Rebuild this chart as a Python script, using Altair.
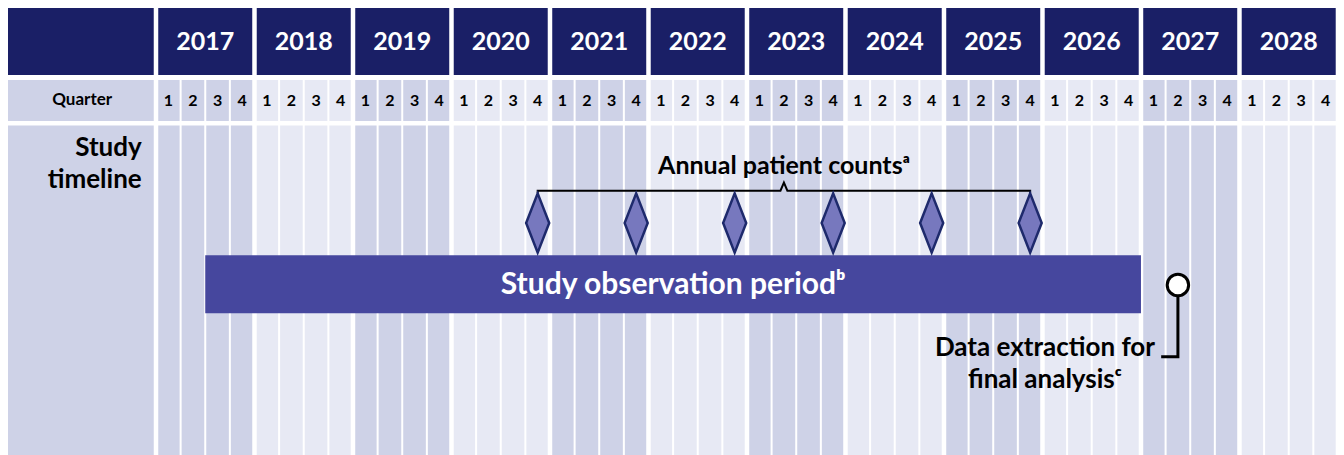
import altair as alt
import pandas as pd

# ---------------- data ----------------
YEARS = list(range(2017, 2029))
QUARTERS = [1, 2, 3, 4]
OBS_START = (2017, 3)          # study observation period start (year, quarter)
OBS_END = (2026, 4)            # study observation period end (year, quarter)
COUNT_YEARS = [2020, 2021, 2022, 2023, 2024, 2025]   # annual patient counts
COUNT_QUARTER = 4
EXTRACTION = (2027, 2)         # data extraction for final analysis

LBL_TIMELINE = "Study\ntimeline"
LBL_QUARTER = "Quarter"
LBL_COUNTS = "Annual patient counts\u1d43"
LBL_OBS = "Study observation period\u1d47"
LBL_EXTRACT = "Data extraction for\nfinal analysis\u1d9c"

# ---------------- layout / style ----------------
FONT = "Lato"
NAVY = "#1a1f66"
DARK = "#ced2e7"
LIGHT = "#e7e9f4"
BAR = "#46479e"
DIAM_FILL = "#7778be"
DIAM_STROKE = "#1e2a6c"

X_MIN, X_MAX = -6.01, 47.92
LEFT_COL = (-6.01, 0)
HEADER = (0, 67)
QROW = (72, 113)
BODY = (117.5, 447)

W, H = 1328, 447


def qidx(year, q):
    return (year - 2017) * 4 + (q - 1)


xs = alt.Scale(domain=[X_MIN, X_MAX], nice=False, zero=False)
ys = alt.Scale(domain=[0, H], reverse=True, nice=False, zero=False)
X = lambda: alt.X("x:Q", scale=xs, axis=None)
Y = lambda: alt.Y("y:Q", scale=ys, axis=None)

# ---------------- background cells ----------------
cells = []
cells.append(dict(x=LEFT_COL[0], x2=LEFT_COL[1], y=HEADER[0], y2=HEADER[1], fill=NAVY))
cells.append(dict(x=LEFT_COL[0], x2=LEFT_COL[1], y=QROW[0], y2=QROW[1], fill=DARK))
cells.append(dict(x=LEFT_COL[0], x2=LEFT_COL[1], y=BODY[0], y2=BODY[1], fill=DARK))
for yr in YEARS:
    shade = DARK if (yr - 2017) % 2 == 0 else LIGHT
    cells.append(dict(x=qidx(yr, 1), x2=qidx(yr, 4) + 1, y=HEADER[0], y2=HEADER[1], fill=NAVY))
    for q in QUARTERS:
        for row in (QROW, BODY):
            cells.append(dict(x=qidx(yr, q), x2=qidx(yr, q) + 1, y=row[0], y2=row[1], fill=shade))
cells_df = pd.DataFrame(cells)

cell_layer = alt.Chart(cells_df).mark_rect().encode(
    x=X(), x2="x2:Q", y=Y(), y2="y2:Q", fill=alt.Fill("fill:N", scale=None),
)

# white separators
qsep = pd.DataFrame([dict(x=qidx(yr, q), y=QROW[0], y2=BODY[1]) for yr in YEARS for q in (2, 3, 4)])
ysep = pd.DataFrame([dict(x=qidx(yr, 1), y=0, y2=H) for yr in YEARS] + [dict(x=48, y=0, y2=H)])

qsep_layer = alt.Chart(qsep).mark_rule(color="white", strokeWidth=2).encode(x=X(), y=Y(), y2="y2:Q")
ysep_layer = alt.Chart(ysep).mark_rule(color="white", strokeWidth=4.5).encode(x=X(), y=Y(), y2="y2:Q")

# ---------------- header texts ----------------
year_df = pd.DataFrame([dict(x=qidx(yr, 1) + 2, y=33.5, t=str(yr)) for yr in YEARS])
year_text = alt.Chart(year_df).mark_text(
    font=FONT, fontWeight="bold", fontSize=25, color="white", align="center", baseline="middle"
).encode(x=X(), y=Y(), text="t:N")

q_df = pd.DataFrame([dict(x=qidx(yr, q) + 0.5, y=93, t=str(q)) for yr in YEARS for q in QUARTERS])
q_text = alt.Chart(q_df).mark_text(
    font=FONT, fontWeight="bold", fontSize=16, color="black", align="center", baseline="middle"
).encode(x=X(), y=Y(), text="t:N")

quarter_lbl = alt.Chart(pd.DataFrame([dict(x=-3.0, y=92, t=LBL_QUARTER)])).mark_text(
    font=FONT, fontWeight="bold", fontSize=17, color="black", align="center", baseline="middle"
).encode(x=X(), y=Y(), text="t:N")

timeline_lbl = alt.Chart(pd.DataFrame([dict(x=-0.58, y=148, t=LBL_TIMELINE)])).mark_text(
    font=FONT, fontWeight="bold", fontSize=26, color="black", align="right", baseline="alphabetic",
    lineBreak="\n", lineHeight=31.5,
).encode(x=X(), y=Y(), text="t:N")

# ---------------- observation bar ----------------
obs_df = pd.DataFrame([dict(x=qidx(*OBS_START), x2=qidx(*OBS_END) + 1, y=247.3, y2=305.3)])
obs_bar = alt.Chart(obs_df).mark_rect(color=BAR).encode(x=X(), x2="x2:Q", y=Y(), y2="y2:Q")
obs_mid = (qidx(*OBS_START) + qidx(*OBS_END) + 1) / 2
obs_text = alt.Chart(pd.DataFrame([dict(x=obs_mid, y=276.5, t=LBL_OBS)])).mark_text(
    font=FONT, fontWeight="bold", fontSize=30, color="white", align="center", baseline="middle"
).encode(x=X(), y=Y(), text="t:N")

# ---------------- annual counts ----------------
cx = [qidx(yr, COUNT_QUARTER) + 0.5 for yr in COUNT_YEARS]
mid = (cx[0] + cx[-1]) / 2
bracket_df = pd.DataFrame([
    dict(o=0, x=cx[0], y=185), dict(o=1, x=cx[0], y=182.7),
    dict(o=2, x=mid - 0.14, y=182.7), dict(o=3, x=mid, y=174.5), dict(o=4, x=mid + 0.14, y=182.7),
    dict(o=5, x=cx[-1], y=182.7), dict(o=6, x=cx[-1], y=185),
])
bracket = alt.Chart(bracket_df).mark_line(color="black", strokeWidth=2, strokeJoin="miter").encode(
    x=X(), y=Y(), order="o:Q"
)
diam_df = pd.DataFrame([dict(x=v, y=215) for v in cx])
diamonds = alt.Chart(diam_df).mark_point(
    shape="M0,-1L0.39,0L0,1L-0.39,0Z", size=3500, filled=True, fill=DIAM_FILL,
    stroke=DIAM_STROKE, strokeWidth=2.5, opacity=1, fillOpacity=1,
).encode(x=X(), y=Y())
counts_text = alt.Chart(pd.DataFrame([dict(x=mid, y=158, t=LBL_COUNTS)])).mark_text(
    font=FONT, fontWeight="bold", fontSize=25, color="black", align="center", baseline="middle"
).encode(x=X(), y=Y(), text="t:N")

# ---------------- data extraction ----------------
ex = qidx(*EXTRACTION) + 0.5
conn_df = pd.DataFrame([
    dict(o=0, x=ex, y=277), dict(o=1, x=ex, y=348.7), dict(o=2, x=ex - 0.68, y=348.7),
])
connector = alt.Chart(conn_df).mark_line(color="black", strokeWidth=3, strokeJoin="miter").encode(
    x=X(), y=Y(), order="o:Q"
)
circle = alt.Chart(pd.DataFrame([dict(x=ex, y=277)])).mark_point(
    shape="circle", size=460, filled=True, fill="white", stroke="black", strokeWidth=3, opacity=1
).encode(x=X(), y=Y())
ext_text = alt.Chart(pd.DataFrame([dict(x=36.1, y=340, t=LBL_EXTRACT)])).mark_text(
    font=FONT, fontWeight="bold", fontSize=26, color="black", align="center", baseline="middle",
    lineBreak="\n", lineHeight=31.5,
).encode(x=X(), y=Y(), text="t:N")

chart = alt.layer(
    cell_layer, qsep_layer, ysep_layer,
    year_text, q_text, quarter_lbl, timeline_lbl,
    obs_bar, obs_text, bracket, diamonds, counts_text,
    connector, circle, ext_text,
).properties(
    width=W, height=H, padding=0, autosize=alt.AutoSizeParams(type="none")
).configure_view(strokeWidth=0)

chart.save("out.html", embed_options={"renderer": "svg", "actions": False})
